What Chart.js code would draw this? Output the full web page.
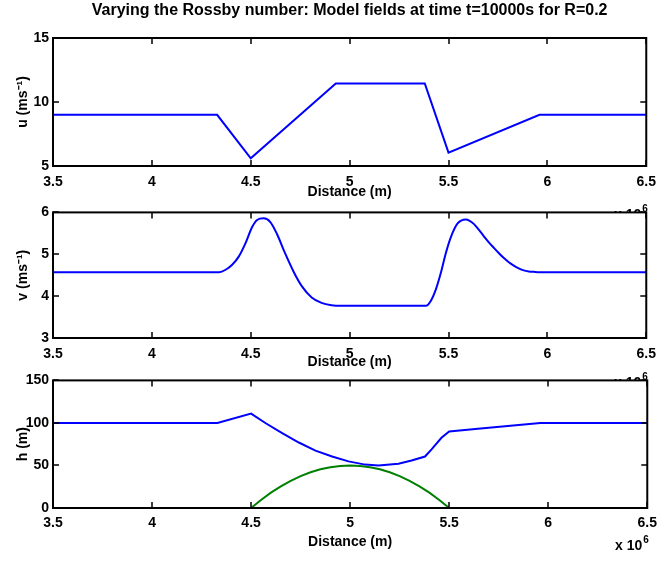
<!DOCTYPE html>
<html>
<head>
<meta charset="utf-8">
<script src="https://cdn.jsdelivr.net/npm/chart.js@4"></script>
<style>
  body { margin: 0; background: #fff; }
  #wrap { position: relative; width: 664px; height: 563px; overflow: hidden; }
  canvas { position: absolute; left: 0; }
</style>
</head>
<body>
<div id="wrap">
  <canvas id="cu" style="top:0px"></canvas>
  <canvas id="cv" style="top:200px"></canvas>
  <canvas id="ch" style="top:368px"></canvas>
</div>
<script>
// distance, in units of 10^6 m
const xTicks = [3.5, 4, 4.5, 5, 5.5, 6, 6.5];

// u (m/s)
const uX = [3.5, 4.33, 4.5, 4.93, 5.38, 5.5, 5.96, 6.5];
const uVal = [9, 9, 5.6, 11.45, 11.45, 6.05, 9, 9];

// v (m/s)
const vX = [3.5, 4.34, 4.373, 4.406, 4.44, 4.473, 4.507, 4.532, 4.565, 4.599, 4.632, 4.674, 4.716, 4.758, 4.808, 4.858, 4.908, 4.93,
            5.386, 5.411, 5.436, 5.461, 5.486, 5.512, 5.545, 5.587, 5.607, 5.629, 5.654, 5.679, 5.704, 5.73, 5.755, 5.78,
            5.805, 5.83, 5.855, 5.88, 5.906, 5.93, 5.96, 6.5];
const vVal = [4.57, 4.57, 4.63, 4.75, 4.95, 5.26, 5.65, 5.82, 5.86, 5.77, 5.49, 5.02, 4.59, 4.24, 3.97, 3.84, 3.78, 3.77,
              3.77, 3.89, 4.16, 4.55, 5.02, 5.41, 5.73, 5.83, 5.8, 5.72, 5.58, 5.43, 5.285, 5.15, 5.025, 4.91,
              4.81, 4.73, 4.665, 4.615, 4.59, 4.58, 4.57, 4.57];

// h (m)
const hX = [3.5, 4.33, 4.5, 4.574, 4.657, 4.741, 4.825, 4.909, 4.992, 5.076, 5.143, 5.244, 5.31, 5.378, 5.411, 5.461, 5.5, 5.645, 5.96, 6.5];
const hVal = [100, 100, 111, 99.6, 88, 77, 67.5, 60.5, 54.8, 51, 50, 52, 55.8, 60.5, 69, 82.5, 90, 93.2, 100, 100];

// bottom topography (m)
const bX = [3.5, 4.5, 4.55, 4.6, 4.65, 4.7, 4.75, 4.8, 4.85, 4.9, 4.95, 5.0, 5.05, 5.1, 5.15, 5.2, 5.25, 5.3, 5.35, 5.4, 5.45, 5.5, 6.5];
const bVal = [0, 0, 9.5, 18, 25.5, 32, 37.5, 42, 45.5, 48, 49.5, 50, 49.5, 48, 45.5, 42, 37.5, 32, 25.5, 18, 9.5, 0, 0];

const FONT = "'Liberation Sans', Arial, Helvetica, sans-serif";
const pts = (xs, ys) => xs.map((x, i) => ({ x: x, y: ys[i] }));

// white axes background, black box and inward ticks like matlab
const boxPlugin = {
  id: "box",
  beforeDraw(chart) {
    const a = chart.chartArea, ctx = chart.ctx;
    ctx.save();
    ctx.fillStyle = "#fff";
    ctx.fillRect(a.left, a.top, a.right - a.left, a.bottom - a.top);
    ctx.restore();
  },
  afterDraw(chart, args, opts) {
    const a = chart.chartArea, ctx = chart.ctx;
    const xs = chart.scales.x, ys = chart.scales.y;
    ctx.save();
    ctx.strokeStyle = "#000";
    ctx.lineWidth = 2;
    ctx.strokeRect(a.left, a.top, a.right - a.left, a.bottom - a.top);
    ctx.lineWidth = 1.5;
    ctx.beginPath();
    xs.ticks.forEach(t => {
      const px = Math.round(xs.getPixelForValue(t.value));
      ctx.moveTo(px, a.bottom); ctx.lineTo(px, a.bottom - 6);
      ctx.moveTo(px, a.top); ctx.lineTo(px, a.top + 6);
    });
    ys.ticks.forEach(t => {
      const py = Math.round(ys.getPixelForValue(t.value));
      ctx.moveTo(a.left, py); ctx.lineTo(a.left + 6, py);
      ctx.moveTo(a.right, py); ctx.lineTo(a.right - 6, py);
    });
    ctx.stroke();
    // x 10^6 multiplier
    ctx.fillStyle = "#000";
    ctx.textAlign = "right";
    ctx.textBaseline = "alphabetic";
    ctx.font = "bold 14px " + FONT;
    ctx.fillText("x 10", a.right - 5, opts.expY);
    ctx.textAlign = "left";
    ctx.font = "bold 10px " + FONT;
    ctx.fillText("6", a.right - 4, opts.expY - 7);
    if (opts.title) {
      ctx.textAlign = "center";
      ctx.font = "bold 16px " + FONT;
      ctx.fillText(opts.title, (a.left + a.right) / 2, 15);
    }
    ctx.restore();
  }
};

function makeChart(id, h, cfg) {
  const cv = document.getElementById(id);
  cv.width = 664; cv.height = h;
  cv.style.width = "664px"; cv.style.height = h + "px";
  return new Chart(cv, {
    type: "line",
    data: { datasets: cfg.datasets },
    options: {
      responsive: false,
      animation: false,
      devicePixelRatio: 1,
      layout: { padding: { top: cfg.top, right: 14, left: 0, bottom: 0 } },
      plugins: {
        legend: { display: false },
        tooltip: { enabled: false },
        box: { expY: cfg.expY, title: cfg.title }
      },
      elements: { point: { radius: 0 }, line: { borderWidth: 2 } },
      scales: {
        x: {
          type: "linear",
          min: 3.5, max: 6.5,
          afterBuildTicks: s => { s.ticks = xTicks.map(v => ({ value: v })); },
          afterFit: s => { s.height = cfg.xH; },
          grid: { display: false, drawTicks: false },
          border: { display: false },
          ticks: {
            padding: cfg.tickPad,
            color: "#000",
            font: { family: FONT, size: 14, weight: "bold" },
            maxRotation: 0,
            autoSkip: false,
            callback: v => String(v)
          },
          title: {
            display: true,
            text: "Distance (m)",
            color: "#000",
            font: { family: FONT, size: 14, weight: "bold" },
            padding: { top: 0, bottom: cfg.xTitlePad }
          }
        },
        y: {
          min: cfg.yMin, max: cfg.yMax,
          afterBuildTicks: s => { s.ticks = cfg.yTicks.map(v => ({ value: v })); },
          afterFit: s => { s.width = 53; },
          grid: { display: false, drawTicks: false },
          border: { display: false },
          ticks: {
            padding: 4,
            color: "#000",
            font: { family: FONT, size: 14, weight: "bold" },
            callback: v => String(v)
          },
          title: {
            display: true,
            text: cfg.yLabel,
            color: "#000",
            font: { family: FONT, size: 14, weight: "bold" },
            padding: { top: 15, bottom: 0 }
          }
        }
      }
    },
    plugins: [boxPlugin]
  });
}

makeChart("cu", 220, {
  top: 38, xH: 54, tickPad: 8, xTitlePad: 19, expY: 219,
  yMin: 5, yMax: 15, yTicks: [5, 10, 15], yLabel: "u (ms\u207B\u00B9)",
  title: "Varying the Rossby number: Model fields at time t=10000s for R=0.2",
  datasets: [{ data: pts(uX, uVal), borderColor: "#0000ff", tension: 0 }]
});

makeChart("cv", 195, {
  top: 10, xH: 57, tickPad: 8, xTitlePad: 24, expY: 187,
  yMin: 3, yMax: 6, yTicks: [3, 4, 5, 6], yLabel: "v (ms\u207B\u00B9)",
  datasets: [{ data: pts(vX, vVal), borderColor: "#0000ff", cubicInterpolationMode: "monotone" }]
});

makeChart("ch", 195, {
  top: 10, xH: 55, tickPad: 7, xTitlePad: 12, expY: 182,
  yMin: 0, yMax: 150, yTicks: [0, 50, 100, 150], yLabel: "h (m)",
  datasets: [
    { data: pts(hX, hVal), borderColor: "#0000ff", tension: 0 },
    { data: pts(bX, bVal), borderColor: "#008000", tension: 0 }
  ]
});
</script>
</body>
</html>
